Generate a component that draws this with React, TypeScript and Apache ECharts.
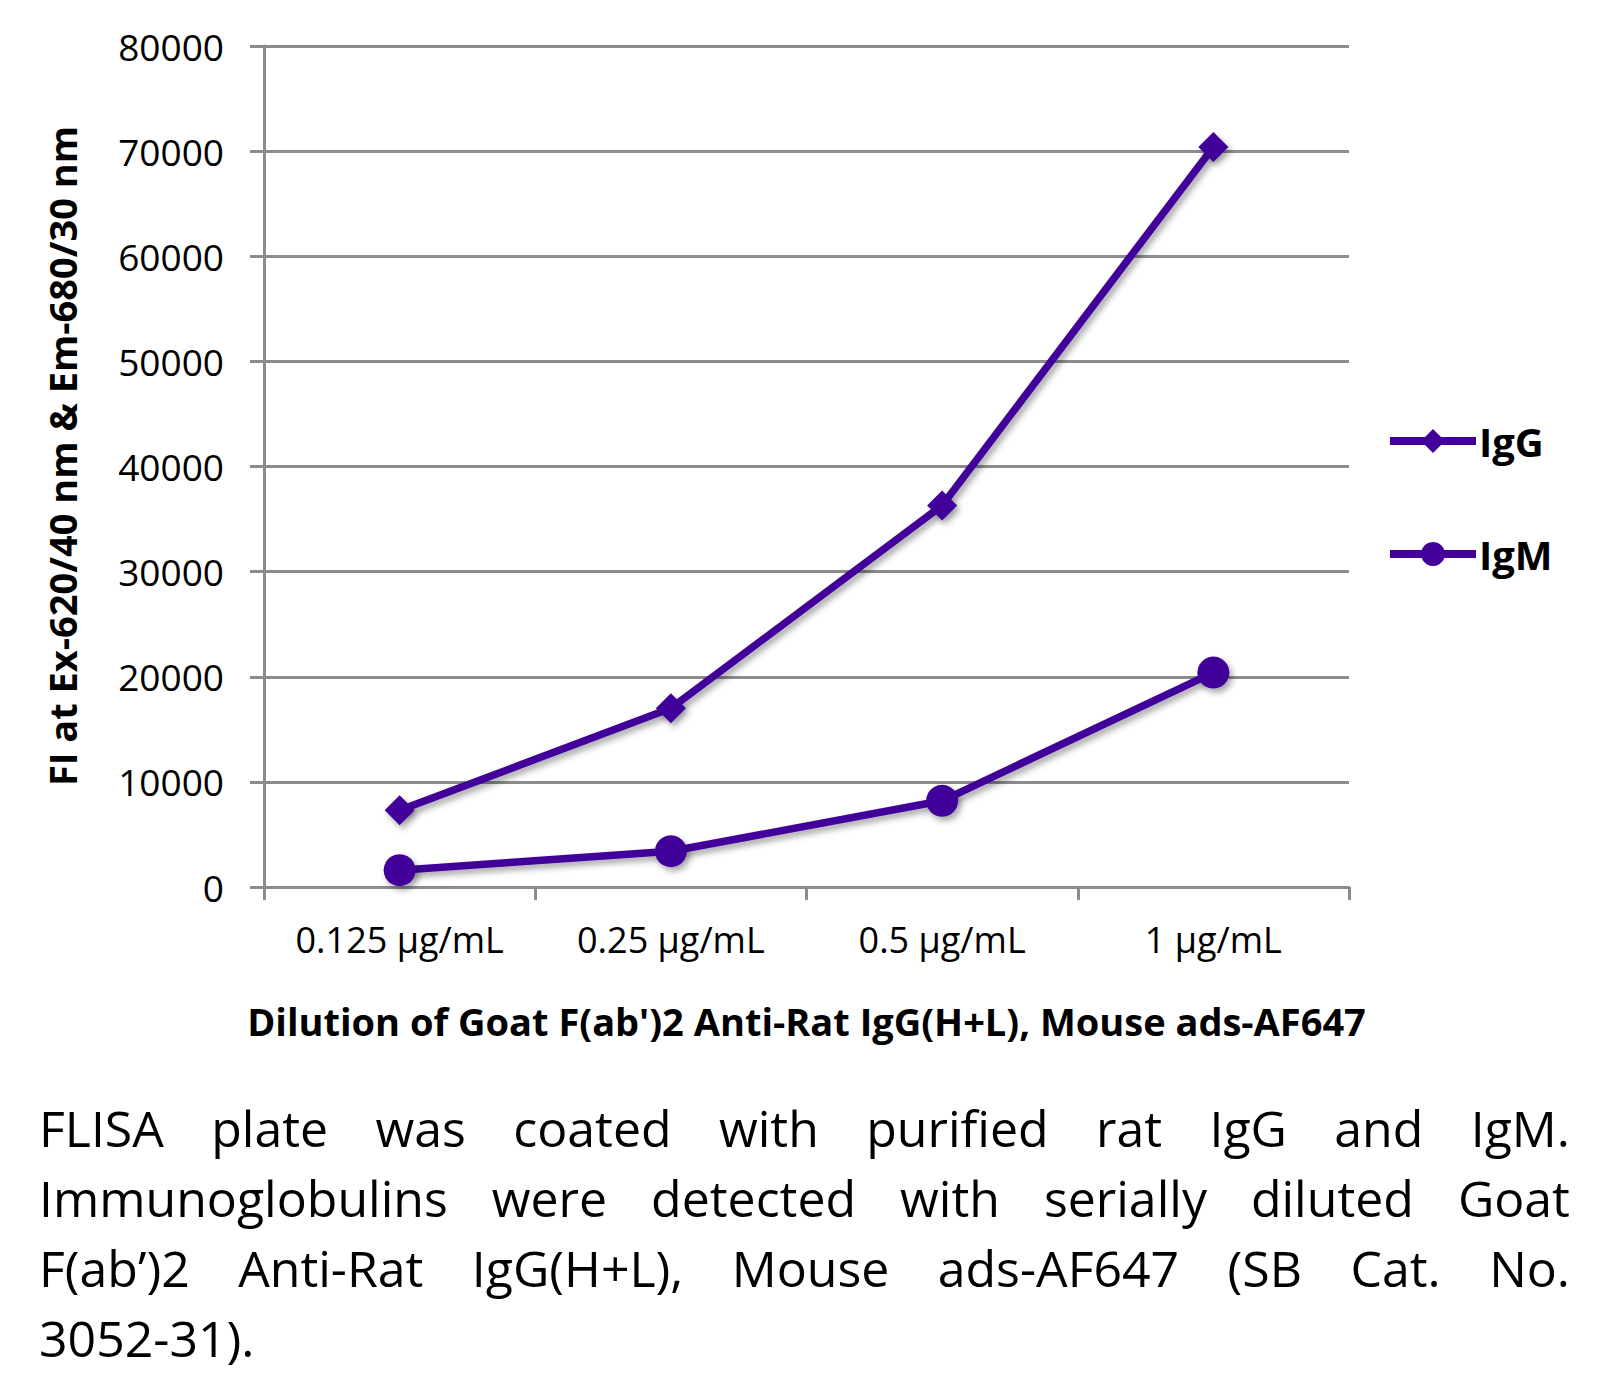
import React, { useEffect, useRef } from "react";
import * as echarts from "echarts";

const categories = ["0.125 µg/mL", "0.25 µg/mL", "0.5 µg/mL", "1 µg/mL"];
const igG = [7300, 17000, 36300, 70400];
const igM = [1600, 3400, 8200, 20400];
const yTicks = { min: 0, max: 80000, interval: 10000 };

const yTitle = "FI at Ex-620/40 nm & Em-680/30 nm";
const xTitle = "Dilution of Goat F(ab')2 Anti-Rat IgG(H+L), Mouse ads-AF647";
const captionLines = [
  "FLISA plate was coated with purified rat IgG and IgM.",
  "Immunoglobulins were detected with serially diluted Goat",
  "F(ab’)2 Anti-Rat IgG(H+L), Mouse ads-AF647 (SB Cat. No.",
  "3052-31).",
];

const PURPLE = "#43009A";
const GRID = "#8c8c8c";
const FONT = "'Open Sans', 'Noto Sans', sans-serif";

export default function App() {
  const ref = useRef<HTMLDivElement>(null);

  useEffect(() => {
    document.body.style.margin = "0";
    if (!ref.current) return;
    const chart = echarts.init(ref.current, null, { renderer: "svg" });
    const shadow = {
      shadowColor: "rgba(0,0,0,0.35)",
      shadowBlur: 6,
      shadowOffsetX: 3,
      shadowOffsetY: 4,
    };
    chart.setOption({
      animation: false,
      backgroundColor: "#ffffff",
      textStyle: { fontFamily: FONT },
      grid: { left: 264, right: 271, top: 46, bottom: 193, containLabel: false },
      graphic: [
        {
          type: "text",
          x: 62,
          y: 456,
          rotation: Math.PI / 2,
          style: {
            text: yTitle,
            fontFamily: FONT,
            fontSize: 38,
            fontWeight: "bold",
            fill: "#000",
            align: "center",
            verticalAlign: "middle",
          },
        },
      ],
      legend: {
        orient: "vertical",
        left: 1381,
        top: 416,
        itemWidth: 86,
        itemHeight: 30,
        itemGap: 73,
        lineStyle: { width: 8, color: PURPLE, shadowBlur: 0, shadowOffsetX: 0, shadowOffsetY: 0 },
        itemStyle: { shadowBlur: 0, shadowOffsetX: 0, shadowOffsetY: 0 },
        textStyle: { fontFamily: FONT, fontSize: 40, fontWeight: "bold", color: "#000", padding: [0, 0, 0, -2] },
        data: ["IgG", "IgM"],
      },
      xAxis: {
        type: "category",
        data: categories,
        boundaryGap: true,
        axisLine: { lineStyle: { color: GRID, width: 3 } },
        axisTick: { show: true, interval: 0, length: 13, lineStyle: { color: GRID, width: 3 } },
        axisLabel: { interval: 0, hideOverlap: false, fontFamily: FONT, fontSize: 36, color: "#000", margin: 34 },
        name: xTitle,
        nameLocation: "middle",
        nameGap: 115,
        nameTextStyle: { fontFamily: FONT, fontSize: 38, fontWeight: "bold", color: "#000" },
      },
      yAxis: {
        type: "value",
        min: yTicks.min,
        max: yTicks.max,
        interval: yTicks.interval,
        axisLine: { show: true, lineStyle: { color: GRID, width: 3 } },
        axisTick: { show: true, inside: false, length: 14, lineStyle: { color: GRID, width: 3 } },
        splitLine: { show: true, lineStyle: { color: GRID, width: 3 } },
        axisLabel: {
          fontFamily: FONT,
          fontSize: 37,
          color: "#000",
          margin: 40,
          formatter: (v: number) => String(v),
        },
      },
      series: [
        {
          name: "IgG",
          type: "line",
          data: igG,
          symbol: "diamond",
          symbolSize: 30,
          lineStyle: { color: PURPLE, width: 7.5, ...shadow },
          itemStyle: { color: PURPLE, ...shadow },
        },
        {
          name: "IgM",
          type: "line",
          data: igM,
          symbol: "circle",
          symbolSize: 32,
          lineStyle: { color: PURPLE, width: 7.5, ...shadow },
          itemStyle: { color: PURPLE, ...shadow },
        },
      ],
    });
    return () => chart.dispose();
  }, []);

  return (
    <div style={{ width: 1620, height: 1373, position: "relative", background: "#fff" }}>
      <div ref={ref} style={{ width: 1620, height: 1080 }} />
      <div
        style={{
          position: "absolute",
          left: 39,
          top: 1093,
          width: 1531,
          fontFamily: FONT,
          fontSize: 50,
          lineHeight: "70px",
          color: "#000",
        }}
      >
        {captionLines.map((line, i) => (
          <div
            key={i}
            style={{
              display: "flex",
              justifyContent: i < captionLines.length - 1 ? "space-between" : "flex-start",
              whiteSpace: "nowrap",
              gap: i < captionLines.length - 1 ? 0 : 14,
            }}
          >
            {line.split(" ").map((w, j) => (
              <span key={j}>{w}</span>
            ))}
          </div>
        ))}
      </div>
    </div>
  );
}
